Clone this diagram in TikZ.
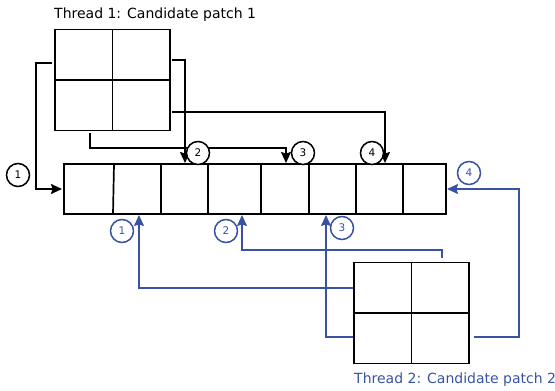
\documentclass[tikz,border=0pt]{standalone}
\usepackage{fontspec}
\setmainfont{DejaVu Sans}
\usetikzlibrary{arrows.meta}
\definecolor{tblue}{RGB}{57,83,164}
\begin{document}
\begin{tikzpicture}[x=1pt,y=-1pt,
  box/.style={draw=black,line width=1.7pt},
  patchbox/.style={draw=black,line width=1.7pt,minimum width=115pt,minimum height=101pt,inner sep=0pt},
  blk/.style={draw=black,line width=1.6pt,-{Stealth[length=11pt,width=10pt,inset=1.5pt]}},
  blu/.style={draw=tblue,line width=1.6pt,-{Stealth[length=11pt,width=10pt,inset=1.5pt]}},
  lab/.style={circle,draw=black,fill=white,line width=1.5pt,minimum size=23pt,inner sep=0pt,font=\fontsize{10.5}{10.5}\selectfont},
  labb/.style={lab,draw=tblue,text=tblue},
  title/.style={anchor=base west,inner sep=0pt,font=\fontsize{14}{15}\selectfont}
]
\useasboundingbox (0,0) rectangle (555,391);

% titles
\node[title] (t1) at (54,18) {Thread 1: Candidate patch 1};
\node[title,text=tblue] (t2) at (354,383) {Thread 2: Candidate patch 2};

% patch 1
\node[patchbox] (p1) at (112.5,80) {};
\draw[box] (p1.north) -- (p1.south);
\draw[box] (p1.west) -- (p1.east);

% patch 2
\node[patchbox] (p2) at (411.5,313) {};
\draw[box] (p2.north) -- (p2.south);
\draw[box] (p2.west) -- (p2.east);

% bar
\node[draw=black,line width=1.7pt,minimum width=382pt,minimum height=50pt,inner sep=0pt] (bar) at (255,189) {};
\foreach \xt/\xb in {114/113,161/161,208/208,261/261,309/309,356/356,403/403}
  \draw[box] (\xt,164) -- (\xb,214);

% black connectors (thread 1)
\coordinate (s1) at (52,63);   \coordinate (e1) at (62,189);
\coordinate (s2) at (172,60);  \coordinate (e2) at (185,163);
\coordinate (s3) at (90,133);  \coordinate (e3) at (286,163);
\coordinate (s4) at (172,112); \coordinate (e4) at (385,163);
\draw[blk] (s1) -- (36,63) -- (36,189) -- (e1);
\draw[blk] (s3) -- (90,148) -- (286,148) -- (e3);
\draw[blk] (s2) -- (185,60) -- (e2);
\draw[blk] (s4) -- (385,112) -- (e4);

% blue connectors (thread 2)
\coordinate (u1) at (353,288); \coordinate (f1) at (139,215);
\coordinate (u2) at (442,258); \coordinate (f2) at (242,215);
\coordinate (u3) at (353,337); \coordinate (f3) at (326,215);
\coordinate (u4) at (474,337); \coordinate (f4) at (447,189);
\draw[blu] (u1) -- (139,288) -- (f1);
\draw[blu] (u2) -- (442,250) -- (242,250) -- (f2);
\draw[blu] (u3) -- (326,337) -- (f3);
\draw[blu] (u4) -- (519,337) -- (519,189) -- (f4);

% labels
\node[lab] (l1) at (18,175) {1};
\node[lab] (l2) at (198,153) {2};
\node[lab] (l3) at (303,153) {3};
\node[lab] (l4) at (372,153) {4};
\node[labb] (m1) at (122,231) {1};
\node[labb] (m2) at (226,231) {2};
\node[labb] (m3) at (342,228) {3};
\node[labb] (m4) at (469,173) {4};
\end{tikzpicture}
\end{document}
